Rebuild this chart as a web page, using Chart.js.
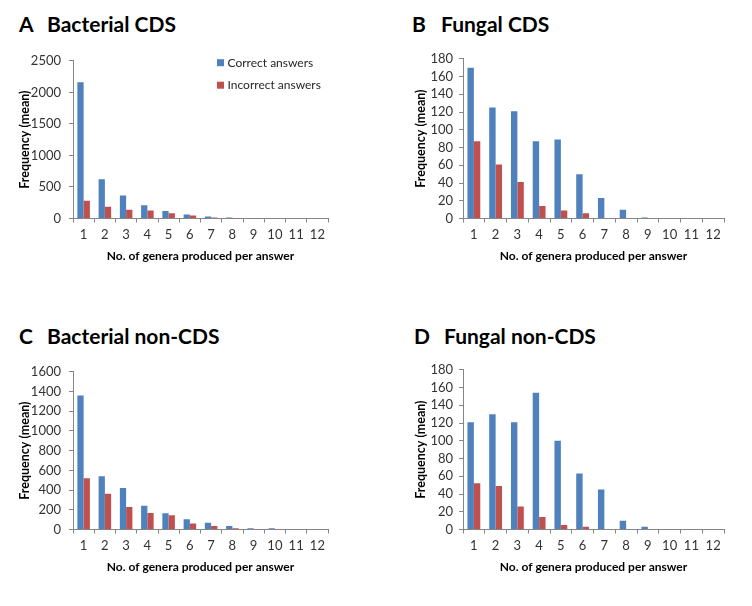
<!DOCTYPE html>
<html><head><meta charset="utf-8">
<script src="https://cdn.jsdelivr.net/npm/chart.js@4.4.1/dist/chart.umd.min.js"></script>
<style>
html,body{margin:0;padding:0;background:#fff;width:752px;height:606px;overflow:hidden;position:relative;font-family:Lato,"Open Sans",sans-serif;}
.ttl{position:absolute;font-weight:bold;font-size:21px;color:#000;line-height:21px;white-space:nowrap;}
canvas{position:absolute;}
</style></head><body>
<div class="ttl" style="left:19px;top:13px">A</div><div class="ttl" style="left:47px;top:13px">Bacterial CDS</div>
<div class="ttl" style="left:412px;top:13px">B</div><div class="ttl" style="left:441px;top:13px">Fungal CDS</div>
<div class="ttl" style="left:19px;top:325px">C</div><div class="ttl" style="left:47px;top:325px">Bacterial non-CDS</div>
<div class="ttl" style="left:414px;top:325px">D</div><div class="ttl" style="left:444px;top:325px">Fungal non-CDS</div>
<canvas id="cA" width="376" height="218" style="left:0;top:45px"></canvas>
<canvas id="cB" width="376" height="218" style="left:376px;top:45px"></canvas>
<canvas id="cC" width="376" height="218" style="left:0;top:356px"></canvas>
<canvas id="cD" width="376" height="218" style="left:376px;top:356px"></canvas>
<script>
const categories = ['1','2','3','4','5','6','7','8','9','10','11','12'];
const seriesLabels = ['Correct answers','Incorrect answers'];
const xTitle = 'No. of genera produced per answer';
const yTitle = 'Frequency (mean)';

const bacterialCdsCorrect   = [2160, 622, 365, 212, 118, 62, 30, 15, 3, 1, 0, 0];
const bacterialCdsIncorrect = [283, 188, 140, 128, 83, 47, 15, 5, 1, 0, 0, 0];
const fungalCdsCorrect      = [170, 125, 121, 87, 89, 50, 23, 10, 1, 0, 0, 0];
const fungalCdsIncorrect    = [87, 61, 41, 14, 9, 6, 0, 0, 0, 0, 0, 0];
const bacterialNonCorrect   = [1360, 540, 420, 240, 165, 105, 68, 35, 12, 12, 0, 0];
const bacterialNonIncorrect = [520, 362, 228, 168, 145, 60, 35, 12, 3, 2, 0, 0];
const fungalNonCorrect      = [121, 130, 121, 154, 100, 63, 45, 10, 3, 0, 0, 0];
const fungalNonIncorrect    = [52, 49, 26, 14, 5, 3, 0, 0, 0, 0, 0, 0];

const BLUE = '#4F81BD', RED = '#C0504D', AXIS = '#868686', TICK = '#333333';
Chart.defaults.font.family = 'Lato, "Open Sans", sans-serif';

const insideLegend = {
  id: 'insideLegend',
  afterDraw(chart, args, opts) {
    if (!opts || !opts.show) return;
    const ctx = chart.ctx; ctx.save();
    ctx.font = '12px Lato, sans-serif'; ctx.textBaseline = 'middle'; ctx.textAlign = 'left';
    chart.data.datasets.forEach((ds, i) => {
      const y = opts.y + i * opts.gap;
      ctx.fillStyle = ds.backgroundColor;
      ctx.fillRect(opts.x, y - 3.5, 7, 7);
      ctx.fillStyle = '#262626';
      ctx.fillText(ds.label, opts.x + 10.5, y);
    });
    ctx.restore();
  }
};

function panel(id, correct, incorrect, yMax, yStep, g) {
  return new Chart(document.getElementById(id), {
    type: 'bar',
    data: { labels: categories, datasets: [
      { label: seriesLabels[0], data: correct, backgroundColor: BLUE, categoryPercentage: 0.59, barPercentage: 1, borderWidth: 0 },
      { label: seriesLabels[1], data: incorrect, backgroundColor: RED, categoryPercentage: 0.59, barPercentage: 1, borderWidth: 0 }
    ]},
    plugins: [insideLegend],
    options: {
      responsive: false, devicePixelRatio: 1, animation: false,
      layout: { padding: { top: g.padTop, right: g.padRight, left: 0, bottom: 0 } },
      plugins: { legend: { display: false }, tooltip: { enabled: false }, insideLegend: g.legend || { show: false } },
      scales: {
        x: {
          grid: { display: true, drawOnChartArea: false, drawTicks: true, tickLength: 4, color: AXIS, offset: true },
          border: { display: true, color: AXIS },
          ticks: { color: TICK, font: { size: 13 }, padding: 5, maxRotation: 0, autoSkip: false },
          title: { display: true, text: xTitle, color: '#000', font: { size: 12, weight: 'bold' }, padding: 0 },
          afterFit: s => { s.height = 44.5; }
        },
        y: {
          min: 0, max: yMax,
          grid: { display: true, drawOnChartArea: false, drawTicks: true, tickLength: 4, color: AXIS },
          border: { display: true, color: AXIS },
          ticks: { stepSize: yStep, color: TICK, font: { size: 13 }, padding: g.tickPad, autoSkip: false, callback: v => String(v) },
          title: { display: true, text: yTitle, color: '#000', font: { size: 12.5, weight: 'bold' }, padding: { top: g.titlePad, bottom: 0 } },
          afterFit: s => { s.width = g.axisW; }
        }
      }
    }
  });
}

panel('cA', bacterialCdsCorrect, bacterialCdsIncorrect, 2500, 500,
  { padTop: 8, padRight: 48, axisW: 73, tickPad: 8, titlePad: 17.5, legend: { show: true, x: 217, y: 17.7, gap: 22.5 } });
panel('cB', fungalCdsCorrect, fungalCdsIncorrect, 180, 20,
  { padTop: 8, padRight: 28, axisW: 87, tickPad: 6, titlePad: 37 });
panel('cC', bacterialNonCorrect, bacterialNonIncorrect, 1600, 200,
  { padTop: 8.5, padRight: 48, axisW: 73, tickPad: 8, titlePad: 17.5 });
panel('cD', fungalNonCorrect, fungalNonIncorrect, 180, 20,
  { padTop: 8, padRight: 28, axisW: 87, tickPad: 6, titlePad: 37 });
</script>
</body></html>
